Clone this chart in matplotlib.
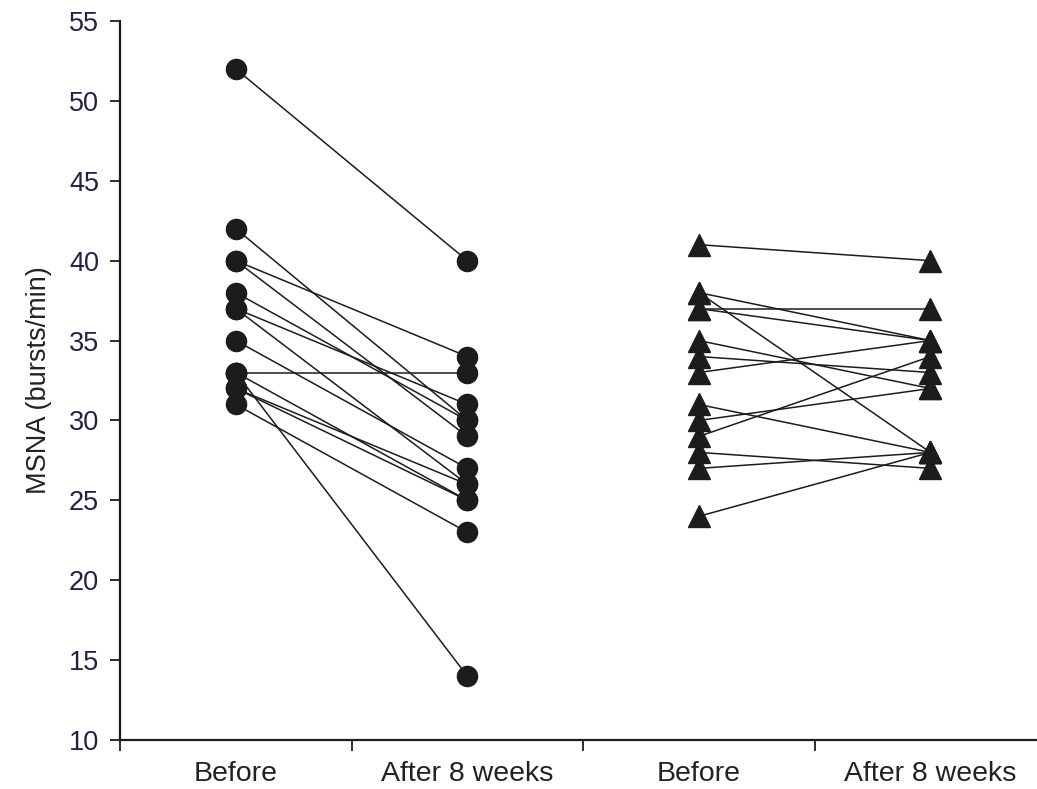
import matplotlib
matplotlib.use("Agg")
import matplotlib.pyplot as plt

# Left group (circles): paired before / after values
left_before = [52, 42, 40, 40, 38, 37, 37, 35, 33, 33, 33, 32, 32, 31]
left_after  = [40, 30, 34, 29, 30, 31, 26, 27, 33, 14, 25, 25, 26, 23]

# Right group (triangles)
right_before = [41, 38, 38, 37, 37, 35, 34, 33, 31, 30, 29, 28, 27, 24]
right_after  = [40, 35, 28, 37, 35, 32, 33, 35, 28, 32, 34, 27, 28, 28]

tick_labels = ["Before", "After 8 weeks", "Before", "After 8 weeks"]
yticks = [10, 15, 20, 25, 30, 35, 40, 45, 50, 55]

ink = "#1c1c1c"
fig = plt.figure(figsize=(10.37, 7.89), dpi=100)
ax = fig.add_axes([120/1037, 49/789, 1 - 120/1037, (740-21)/789])

pos = [0.5, 1.5, 2.5, 3.5]
for b, a in zip(left_before, left_after):
    ax.plot([pos[0], pos[1]], [b, a], color=ink, lw=1.1, zorder=2)
for b, a in zip(right_before, right_after):
    ax.plot([pos[2], pos[3]], [b, a], color=ink, lw=1.1, zorder=2)

ax.plot([pos[0]]*len(left_before), left_before, 'o', ms=14.5, color=ink, zorder=3, ls='none')
ax.plot([pos[1]]*len(left_after), left_after, 'o', ms=14.5, color=ink, zorder=3, ls='none')
ax.plot([pos[2]]*len(right_before), right_before, '^', ms=15.5, color=ink, zorder=3, ls='none')
ax.plot([pos[3]]*len(right_after), right_after, '^', ms=15.5, color=ink, zorder=3, ls='none')

ax.set_ylim(10, 55)
ax.set_xlim(0, 3.96)
ax.set_yticks(yticks)
ax.set_yticklabels([str(v) for v in yticks], fontsize=19.5, family="Liberation Sans", color="#222244")
ax.set_xticks([0, 1, 2, 3])
ax.set_xticklabels([])
ax.set_xticks(pos, minor=True)
ax.set_xticklabels(tick_labels, minor=True, fontsize=20.5, family="Liberation Sans", color="#222222")
ax.tick_params(axis='x', which='minor', length=0, pad=15)
ax.tick_params(axis='x', which='major', length=8, width=1.3, direction='out', color=ink)
ax.tick_params(axis='y', length=7, width=1.3, color=ink, pad=8)
ax.set_ylabel("MSNA (bursts/min)", fontsize=19.5, family="Liberation Sans", labelpad=12, color="#222222")

for s in ["top", "right"]:
    ax.spines[s].set_visible(False)
for s in ["left", "bottom"]:
    ax.spines[s].set_linewidth(1.6)
    ax.spines[s].set_color(ink)

fig.savefig("out.png", dpi=100)
